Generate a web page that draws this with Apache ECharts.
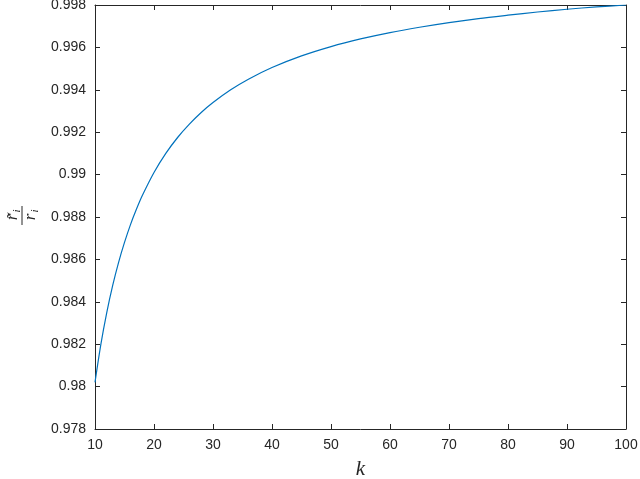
<!DOCTYPE html>
<html><head><meta charset="utf-8">
<script src="https://cdn.jsdelivr.net/npm/echarts@6/dist/echarts.min.js"></script>
<style>html,body{margin:0;padding:0;background:#fff}#c{width:640px;height:479px}</style>
</head><body><div id="c"></div>
<script>
const kValues = [10,11,12,13,14,15,16,17,18,20,22,24,26,28,30,33,36,40,45,50,55,60,65,70,75,80,85,90,95,100];
const ratioValues = [0.98020,0.98200,0.98350,0.98477,0.98586,0.98680,0.98763,0.98835,0.98900,0.99010,0.99100,0.99175,0.99238,0.99293,0.99340,0.99400,0.99450,0.99505,0.99560,0.99604,0.99640,0.99670,0.99695,0.99717,0.99736,0.99752,0.99767,0.99780,0.99791,0.99800];
const xTicks = {min:10,max:100,interval:10};
const yTicks = {min:0.978,max:0.998,interval:0.002};

const chart = echarts.init(document.getElementById('c'));
const axisCol = '#262626';
const lab = {color: axisCol, fontSize: 14, fontFamily: 'Liberation Sans, Arial, sans-serif'};
const fmtY = v => parseFloat(v.toFixed(3)).toString();
const tick = {show:true,inside:true,length:5,lineStyle:{color:axisCol}};
chart.setOption({
  animation:false,
  grid:{left:95,right:14,top:5,bottom:50,containLabel:false,outerBoundsMode:'none'},
  xAxis:[
    {type:'value',min:xTicks.min,max:xTicks.max,interval:xTicks.interval,
     axisLine:{lineStyle:{color:axisCol,width:1}},axisTick:tick,
     axisLabel:Object.assign({margin:9},lab),splitLine:{show:false},
     name:'k',nameLocation:'middle',nameGap:30,nameTextStyle:{fontFamily:'Liberation Serif, Times New Roman, serif',fontStyle:'italic',fontSize:21,color:axisCol}},
    {type:'value',position:'top',min:xTicks.min,max:xTicks.max,interval:xTicks.interval,
     axisLine:{show:true,lineStyle:{color:axisCol,width:1}},axisTick:tick,
     axisLabel:{show:false},splitLine:{show:false}}
  ],
  yAxis:[
    {type:'value',min:yTicks.min,max:yTicks.max,interval:yTicks.interval,
     axisLine:{show:true,lineStyle:{color:axisCol,width:1}},axisTick:tick,
     axisLabel:Object.assign({margin:9,formatter:fmtY},lab),splitLine:{show:false}},
    {type:'value',position:'right',min:yTicks.min,max:yTicks.max,interval:yTicks.interval,
     axisLine:{show:true,lineStyle:{color:axisCol,width:1}},axisTick:tick,
     axisLabel:{show:false},splitLine:{show:false}}
  ],
  series:[{type:'line',data:kValues.map((k,i)=>[k,ratioValues[i]]),smooth:0.3,showSymbol:false,
    lineStyle:{color:'#0072BD',width:1.2},xAxisIndex:0,yAxisIndex:0}],
  graphic:[{
    type:'group',x:22,y:216,rotation:Math.PI/2,
    children:[
      {type:'text',x:-1,y:-9,style:{text:'r̃',fill:axisCol,font:'italic 17px Liberation Serif, serif',textAlign:'center',textVerticalAlign:'middle'}},
      {type:'text',x:5,y:-5,style:{text:'i',fill:axisCol,font:'italic 11px Liberation Serif, serif',textAlign:'center',textVerticalAlign:'middle'}},
      {type:'line',shape:{x1:-9,y1:0,x2:10,y2:0},style:{stroke:axisCol,lineWidth:1}},
      {type:'text',x:-1,y:9,style:{text:'r',fill:axisCol,font:'italic 17px Liberation Serif, serif',textAlign:'center',textVerticalAlign:'middle'}},
      {type:'text',x:5,y:13,style:{text:'i',fill:axisCol,font:'italic 11px Liberation Serif, serif',textAlign:'center',textVerticalAlign:'middle'}}
    ]
  }]
});
</script></body></html>
